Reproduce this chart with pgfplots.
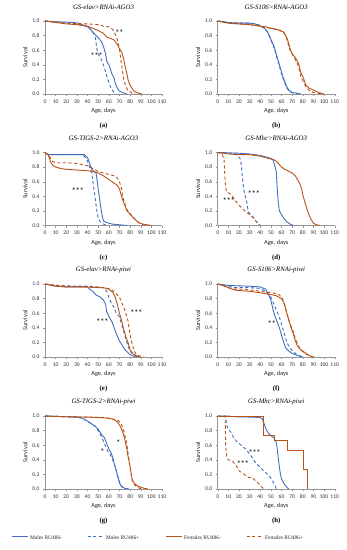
\documentclass[border=0pt]{standalone}
\usepackage{fontspec}
\setmainfont{Liberation Serif}
\newfontfamily\calfont{Carlito}
\usepackage{pgfplots}
\pgfplotsset{compat=1.18}
\definecolor{mblue}{RGB}{66,110,192}
\definecolor{fbrown}{RGB}{186,82,24}
\definecolor{axgray}{RGB}{150,150,150}
\pgfplotsset{
 panel/.style={
  scale only axis, width=117pt, height=73pt,
  xmin=0,xmax=110,ymin=0,ymax=1,
  axis x line*=bottom, axis y line*=left,
  axis line style={axgray, line width=0.5pt},
  xtick={0,10,20,30,40,50,60,70,80,90,100,110},
  ytick={0,0.2,0.4,0.6,0.8,1},
  tick align=outside, major tick length=2pt, tick style={axgray, line width=0.4pt},
  ticklabel style={font=\calfont\fontsize{5.6}{6}\selectfont, text=black!80},
  /pgf/number format/assume math mode=true,
  yticklabel style={/pgf/number format/fixed,/pgf/number format/fixed zerofill,/pgf/number format/precision=1},
  xlabel={Age, days}, ylabel={Survival},
  label style={font=\calfont\fontsize{6.3}{7}\selectfont, text=black!85},
  xlabel style={yshift=2pt},
  ylabel style={yshift=-2pt},
  title style={font=\itshape\fontsize{6.8}{8}\selectfont, yshift=2pt},
  clip=false,
 },
 ms/.style={mblue, line width=0.9pt},
 md/.style={mblue, line width=0.9pt, dash pattern=on 3.2pt off 2.4pt},
 fs/.style={fbrown, line width=0.9pt},
 fd/.style={fbrown, line width=0.9pt, dash pattern=on 3.2pt off 2.4pt},
 legbox/.style={anchor=west, hide axis, scale only axis, width=1pt, height=1pt,
  xmin=0,xmax=1,ymin=0,ymax=1,
  legend style={at={(0,0.5)}, anchor=west, draw=none, fill=none, inner sep=0pt,
    font=\fontsize{5.4}{6}\selectfont, text=black!85},
  legend image code/.code={\draw[##1] (0pt,1.8pt) -- (16pt,1.8pt);}},
}
\newcommand{\plab}[1]{\node[font=\bfseries\fontsize{6.8}{8}\selectfont, yshift=-32pt] at (rel axis cs:0.5,0) {#1};}
\newcommand{\sig}[3]{\node[font=\calfont\bfseries\fontsize{8}{8}\selectfont, text=black!80] at (axis cs:#1,#2) {#3};}
\begin{document}
\begin{tikzpicture}
% (a)
\begin{axis}[panel, at={(45pt,-94pt)}, title={GS-elav>RNAi-AGO3}]
\addplot[ms] coordinates {(0,1)(10,0.99)(20,0.985)(30,0.975)(35,0.95)(40,0.92)(43,0.88)(46,0.83)(48,0.8)(50,0.77)(53,0.72)(55,0.65)(56,0.6)(57,0.55)(58,0.45)(60,0.4)(62,0.32)(63,0.27)(65,0.22)(66,0.15)(68,0.08)(70,0.04)(73,0.02)(77,0)};
\addplot[md] coordinates {(0,1)(10,0.985)(20,0.975)(30,0.96)(38,0.93)(42,0.9)(45,0.85)(47,0.8)(48,0.7)(49,0.6)(50,0.55)(52,0.5)(55,0.4)(57,0.3)(59,0.2)(61,0.12)(63,0.06)(65,0.02)(67,0)};
\addplot[fs] coordinates {(0,1)(10,0.98)(20,0.96)(30,0.95)(40,0.93)(45,0.9)(50,0.87)(55,0.83)(58,0.78)(62,0.76)(65,0.74)(68,0.68)(70,0.62)(72,0.58)(74,0.48)(75,0.4)(77,0.28)(78,0.2)(80,0.12)(83,0.05)(86,0.02)(91,0)};
\addplot[fd] coordinates {(0,1)(20,0.97)(40,0.96)(50,0.95)(55,0.93)(60,0.92)(64,0.88)(66,0.82)(68,0.75)(70,0.62)(71,0.5)(72,0.4)(73,0.3)(74,0.2)(76,0.1)(78,0.05)(82,0.01)(85,0)};
\sig{70}{0.84}{**}
\sig{48.6}{0.52}{***}
\plab{(a)}
\end{axis}
% (b)
\begin{axis}[panel, at={(217.7pt,-94pt)}, title={GS-S106>RNAi-AGO3}]
\addplot[ms] coordinates {(0,1)(10,0.98)(20,0.97)(30,0.97)(35,0.96)(40,0.93)(44,0.9)(47,0.85)(50,0.75)(53,0.65)(55,0.55)(57,0.45)(59,0.35)(61,0.25)(63,0.17)(65,0.1)(67,0.05)(70,0.02)(75,0.01)(78,0)};
\addplot[md] coordinates {(0,1)(10,0.98)(20,0.975)(30,0.97)(35,0.965)(40,0.94)(44,0.9)(47,0.84)(50,0.74)(53,0.63)(55,0.53)(57,0.43)(59,0.33)(61,0.23)(63,0.15)(65,0.08)(68,0.03)(72,0.01)(76,0)};
\addplot[fs] coordinates {(0,1)(10,0.97)(20,0.96)(30,0.95)(40,0.93)(45,0.92)(50,0.9)(57,0.88)(62,0.85)(65,0.77)(67,0.68)(68.5,0.6)(70,0.55)(73,0.5)(76,0.42)(78,0.3)(80,0.24)(83,0.12)(86,0.08)(89,0.06)(95,0.02)(100,0)};
\addplot[fd] coordinates {(0,1)(10,0.97)(20,0.96)(30,0.95)(40,0.93)(50,0.9)(57,0.88)(62,0.84)(64,0.8)(66,0.7)(68,0.6)(70,0.55)(73,0.47)(76,0.38)(78,0.25)(80,0.18)(83,0.1)(86,0.05)(90,0.02)(95,0.01)(98,0)};
\plab{(b)}
\end{axis}
% (c)
\begin{axis}[panel, at={(45pt,-225.5pt)}, title={GS-TIGS-2>RNAi-AGO3}]
\addplot[ms] coordinates {(0,1)(3,0.97)(37,0.97)(40,0.93)(42,0.85)(44,0.77)(46,0.74)(48,0.72)(49,0.62)(50,0.5)(51,0.4)(52,0.3)(53,0.2)(54,0.12)(55,0.06)(58,0.04)(63,0.02)(70,0.01)(77,0)};
\addplot[md] coordinates {(0,1)(3,0.97)(35,0.97)(38,0.93)(40,0.88)(42,0.8)(44,0.72)(45,0.6)(46,0.5)(47,0.4)(48,0.28)(49,0.18)(50,0.1)(52,0.05)(55,0.02)(58,0)};
\addplot[fs] coordinates {(0,1)(3,0.97)(5,0.88)(7,0.83)(10,0.8)(15,0.78)(20,0.77)(30,0.76)(40,0.75)(45,0.74)(50,0.72)(55,0.68)(60,0.63)(65,0.58)(68,0.55)(70,0.5)(71,0.45)(73,0.35)(75,0.28)(77,0.2)(79,0.17)(82,0.12)(85,0.08)(88,0.04)(92,0.02)(100,0)};
\addplot[fd] coordinates {(0,1)(4,0.95)(7,0.88)(10,0.86)(20,0.86)(30,0.85)(40,0.82)(45,0.78)(50,0.74)(55,0.72)(60,0.7)(65,0.68)(68,0.65)(70,0.6)(72,0.5)(73,0.4)(75,0.3)(77,0.22)(79,0.18)(82,0.13)(85,0.08)(88,0.04)(92,0.01)(95,0)};
\sig{31}{0.48}{***}
\plab{(c)}
\end{axis}
% (d)
\begin{axis}[panel, at={(217.7pt,-225.5pt)}, title={GS-Mhc>RNAi-AGO3}]
\addplot[ms] coordinates {(0,1)(20,0.99)(30,0.98)(40,0.96)(45,0.94)(50,0.92)(52,0.9)(54,0.8)(55,0.75)(56,0.5)(57,0.3)(58,0.2)(60,0.15)(62,0.1)(65,0.05)(68,0.02)(71,0)};
\addplot[md] coordinates {(0,1)(16,0.99)(19,0.95)(21,0.92)(22,0.85)(23,0.7)(24,0.55)(25,0.45)(27,0.35)(28,0.25)(29,0.18)(31,0.15)(33,0.12)(35,0.08)(37,0.04)(39,0)};
\addplot[fs] coordinates {(0,1)(10,0.98)(20,0.97)(30,0.97)(40,0.95)(45,0.93)(50,0.91)(53,0.9)(55,0.88)(57,0.85)(60,0.8)(63,0.77)(67,0.74)(70,0.72)(73,0.68)(75,0.63)(77,0.58)(79,0.5)(80,0.42)(82,0.32)(84,0.22)(86,0.14)(88,0.08)(90,0.03)(93,0.01)(96,0)};
\addplot[fd] coordinates {(0,1)(4,0.99)(6,0.9)(7,0.6)(8,0.48)(10,0.45)(13,0.42)(16,0.35)(20,0.28)(24,0.22)(28,0.17)(31,0.14)(34,0.1)(36,0.06)(38,0.03)(40,0)};
\sig{34}{0.43}{***}
\sig{10.5}{0.34}{***}
\plab{(d)}
\end{axis}
% (e)
\begin{axis}[panel, at={(45pt,-357pt)}, title={GS-elav>RNAi-piwi}]
\addplot[ms] coordinates {(0,1)(10,0.97)(20,0.96)(30,0.96)(40,0.96)(42,0.93)(45,0.9)(48,0.85)(52,0.82)(55,0.78)(57,0.72)(58,0.62)(60,0.56)(63,0.48)(65,0.4)(67,0.32)(70,0.22)(73,0.15)(75,0.1)(78,0.06)(80,0.03)(86,0)};
\addplot[md] coordinates {(0,1)(10,0.98)(20,0.975)(30,0.97)(40,0.97)(50,0.96)(55,0.95)(58,0.9)(60,0.82)(62,0.75)(65,0.68)(67,0.6)(70,0.55)(72,0.45)(74,0.35)(76,0.25)(78,0.15)(80,0.08)(83,0.03)(87,0)};
\addplot[fs] coordinates {(0,1)(10,0.97)(20,0.96)(30,0.96)(40,0.96)(50,0.95)(55,0.95)(60,0.93)(64,0.88)(66,0.82)(68,0.72)(70,0.6)(72,0.5)(74,0.38)(76,0.28)(78,0.2)(80,0.1)(83,0.04)(87,0.01)(90,0)};
\addplot[fd] coordinates {(0,1)(20,0.97)(40,0.96)(55,0.95)(62,0.93)(66,0.88)(70,0.82)(72,0.75)(74,0.68)(76,0.6)(78,0.5)(79,0.4)(80,0.3)(82,0.18)(84,0.08)(86,0.03)(90,0.01)(93,0)};
\sig{86}{0.61}{***}
\sig{54}{0.48}{***}
\plab{(e)}
\end{axis}
% (f)
\begin{axis}[panel, at={(217.7pt,-357pt)}, title={GS-S106>RNAi-piwi}]
\addplot[ms] coordinates {(0,1)(10,0.98)(20,0.975)(30,0.97)(40,0.96)(45,0.93)(48,0.85)(50,0.78)(52,0.65)(54,0.55)(56,0.48)(58,0.4)(60,0.3)(62,0.2)(64,0.12)(67,0.08)(70,0.05)(75,0.02)(80,0)};
\addplot[md] coordinates {(0,1)(10,0.97)(15,0.95)(30,0.95)(40,0.94)(45,0.9)(50,0.82)(52,0.75)(55,0.65)(57,0.58)(59,0.5)(61,0.4)(63,0.3)(65,0.2)(68,0.12)(71,0.07)(75,0.03)(80,0)};
\addplot[fs] coordinates {(0,1)(5,0.98)(10,0.95)(15,0.92)(20,0.91)(30,0.9)(40,0.88)(48,0.86)(55,0.84)(60,0.8)(63,0.72)(65,0.6)(67,0.5)(69,0.4)(71,0.32)(73,0.22)(75,0.15)(78,0.1)(82,0.06)(86,0.02)(90,0)};
\addplot[fd] coordinates {(0,1)(5,0.98)(10,0.95)(15,0.93)(20,0.93)(30,0.92)(40,0.9)(50,0.88)(55,0.87)(58,0.85)(61,0.8)(63,0.7)(65,0.6)(67,0.5)(69,0.42)(71,0.35)(73,0.25)(76,0.15)(78,0.1)(82,0.05)(86,0.02)(90,0)};
\sig{51}{0.46}{**}
\plab{(f)}
\end{axis}
% (g)
\begin{axis}[panel, at={(45pt,-489pt)}, title={GS-TIGS-2>RNAi-piwi}]
\addplot[ms] coordinates {(0,1)(20,0.99)(30,0.985)(35,0.97)(40,0.93)(45,0.88)(48,0.85)(50,0.82)(53,0.75)(56,0.7)(58,0.62)(60,0.55)(62,0.5)(64,0.42)(65,0.35)(67,0.25)(68,0.2)(69,0.15)(70,0.08)(72,0.03)(75,0.01)(79,0)};
\addplot[md] coordinates {(0,1)(20,0.99)(30,0.985)(35,0.97)(40,0.93)(45,0.88)(48,0.85)(50,0.8)(53,0.72)(55,0.65)(57,0.58)(59,0.52)(61,0.48)(63,0.42)(65,0.35)(67,0.25)(68,0.18)(70,0.1)(72,0.04)(74,0.01)(76,0)};
\addplot[fs] coordinates {(0,1)(20,0.99)(40,0.985)(50,0.98)(60,0.97)(65,0.95)(68,0.92)(70,0.88)(72,0.82)(74,0.74)(75,0.68)(77,0.55)(78,0.45)(79,0.38)(80,0.3)(81,0.22)(82,0.12)(84,0.08)(86,0.05)(89,0.03)(93,0.01)(97,0)};
\addplot[fd] coordinates {(0,1)(20,0.99)(40,0.985)(55,0.98)(62,0.96)(68,0.95)(70,0.92)(72,0.88)(74,0.8)(76,0.68)(77,0.6)(78,0.5)(79,0.4)(80,0.3)(81,0.2)(82,0.12)(84,0.06)(86,0.03)(89,0.01)(92,0)};
\sig{54}{0.51}{*}
\sig{69}{0.63}{*}
\plab{(g)}
\end{axis}
% (h)
\begin{axis}[panel, at={(217.7pt,-489pt)}, title={GS-Mhc>RNAi-piwi}]
\addplot[ms] coordinates {(0,1)(10,1)(15,0.99)(30,0.985)(40,0.98)(42,0.96)(44,0.88)(46,0.8)(48,0.76)(50,0.73)(53,0.7)(55,0.64)(56,0.55)(57,0.42)(58,0.3)(59,0.2)(60,0.14)(62,0.08)(64,0.04)(66,0.01)(67,0)};
\addplot[md] coordinates {(0,1)(7,1)(8,0.92)(9,0.85)(11,0.8)(13,0.77)(15,0.7)(18,0.65)(22,0.6)(26,0.55)(30,0.48)(33,0.42)(36,0.35)(40,0.3)(43,0.25)(47,0.2)(50,0.15)(52,0.1)(54,0.05)(55,0)};
\addplot[fs] coordinates {(0,1)(43,1)(43,0.73)(53,0.73)(53,0.67)(66,0.67)(66,0.53)(81,0.53)(81,0.27)(84,0.27)(84,0)};
\addplot[fd] coordinates {(0,1)(7,1)(7.5,0.6)(8,0.5)(9,0.42)(10,0.4)(14,0.38)(17,0.33)(20,0.25)(25,0.2)(29,0.16)(33,0.15)(35,0.12)(38,0.08)(40,0.05)(42,0.02)(43,0)};
\sig{34.6}{0.5}{***}
\sig{23.6}{0.35}{***}
\plab{(h)}
\end{axis}
% legend
\begin{axis}[legbox, at={(11pt,-538pt)}]
\addlegendimage{ms}\addlegendentry{Males RU486-}
\end{axis}
\begin{axis}[legbox, at={(87pt,-538pt)}]
\addlegendimage{md}\addlegendentry{Males RU486+}
\end{axis}
\begin{axis}[legbox, at={(165pt,-538pt)}]
\addlegendimage{fs}\addlegendentry{Females RU486-}
\end{axis}
\begin{axis}[legbox, at={(246pt,-538pt)}]
\addlegendimage{fd}\addlegendentry{Females RU486+}
\end{axis}
\pgfresetboundingbox
\path (0,0) rectangle (347pt,-550pt);
\end{tikzpicture}
\end{document}
